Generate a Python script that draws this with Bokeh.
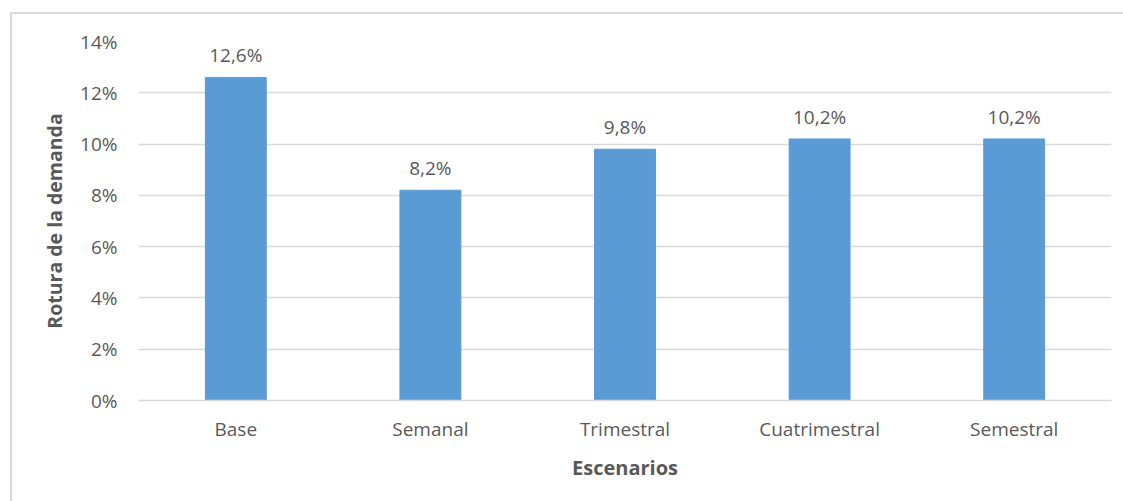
from bokeh.plotting import figure
from bokeh.models import ColumnDataSource, LabelSet, Range1d, FixedTicker, PrintfTickFormatter
from bokeh.core.properties import value
from bokeh.embed import file_html
from bokeh.resources import INLINE

# Scenario data: demand stock-out rate (%)
escenarios = ["Base", "Semanal", "Trimestral", "Cuatrimestral", "Semestral"]
rotura = [12.6, 8.2, 9.8, 10.2, 10.2]
y_ticks = [0, 2, 4, 6, 8, 10, 12, 14]

etiquetas = [f"{v:.1f}".replace(".", ",") + "%" for v in rotura]
src = ColumnDataSource(dict(x=escenarios, y=rotura, lab=etiquetas))

FONT = "Open Sans"
TXT = "#595959"
GRID = "#D9D9D9"
BAR = "#5B9BD5"

p = figure(
    x_range=escenarios, y_range=Range1d(0, 14),
    width=1123, height=501,
    output_backend="svg", toolbar_location=None,
    min_border_left=138, min_border_right=12,
    min_border_top=41, min_border_bottom=101,
)
p.outline_line_color = None
p.background_fill_color = "white"
p.border_fill_color = None

# thin chart-area frame on the left and top edges, drawn behind the canvas
p.styles = {
    "background-color": "white",
    "background-image": "linear-gradient(#D9D9D9, #D9D9D9), linear-gradient(#D9D9D9, #D9D9D9)",
    "background-size": "2px 500px, 1120px 2px",
    "background-position": "10px 12px, 10px 12px",
    "background-repeat": "no-repeat",
}

p.vbar(x="x", top="y", width=0.313, source=src, color=BAR)

labels = LabelSet(x="x", y="y", text="lab", source=src, y_offset=15,
                  text_align="center", text_baseline="alphabetic",
                  text_font=value(FONT), text_font_size="19px", text_color=TXT)
p.add_layout(labels)

# y axis
p.yaxis.ticker = FixedTicker(ticks=y_ticks)
p.yaxis.formatter = PrintfTickFormatter(format="%d%%")
p.yaxis.axis_line_color = None
p.yaxis.major_tick_line_color = None
p.yaxis.minor_tick_line_color = None
p.yaxis.major_label_standoff = 15
p.yaxis.major_label_text_font = FONT
p.yaxis.major_label_text_font_size = "19px"
p.yaxis.major_label_text_color = TXT
p.yaxis.axis_label = "Rotura de la demanda"
p.yaxis.axis_label_text_font = FONT
p.yaxis.axis_label_text_font_style = "bold"
p.yaxis.axis_label_text_font_size = "19.5px"
p.yaxis.axis_label_text_color = TXT
p.yaxis.axis_label_standoff = 9

# x axis
p.xaxis.axis_line_color = GRID
p.xaxis.axis_line_width = 1.5
p.xaxis.major_tick_line_color = None
p.xaxis.minor_tick_line_color = None
p.xaxis.major_label_standoff = 9
p.xaxis.major_label_text_font = FONT
p.xaxis.major_label_text_font_size = "19px"
p.xaxis.major_label_text_color = TXT
p.xaxis.axis_label = "Escenarios"
p.xaxis.axis_label_text_font = FONT
p.xaxis.axis_label_text_font_style = "bold"
p.xaxis.axis_label_text_font_size = "20px"
p.xaxis.axis_label_text_color = TXT
p.xaxis.axis_label_standoff = 9

p.xgrid.grid_line_color = None
p.ygrid.grid_line_color = GRID
p.ygrid.grid_line_width = 1.5

open("out.html", "w").write(file_html(p, INLINE))
